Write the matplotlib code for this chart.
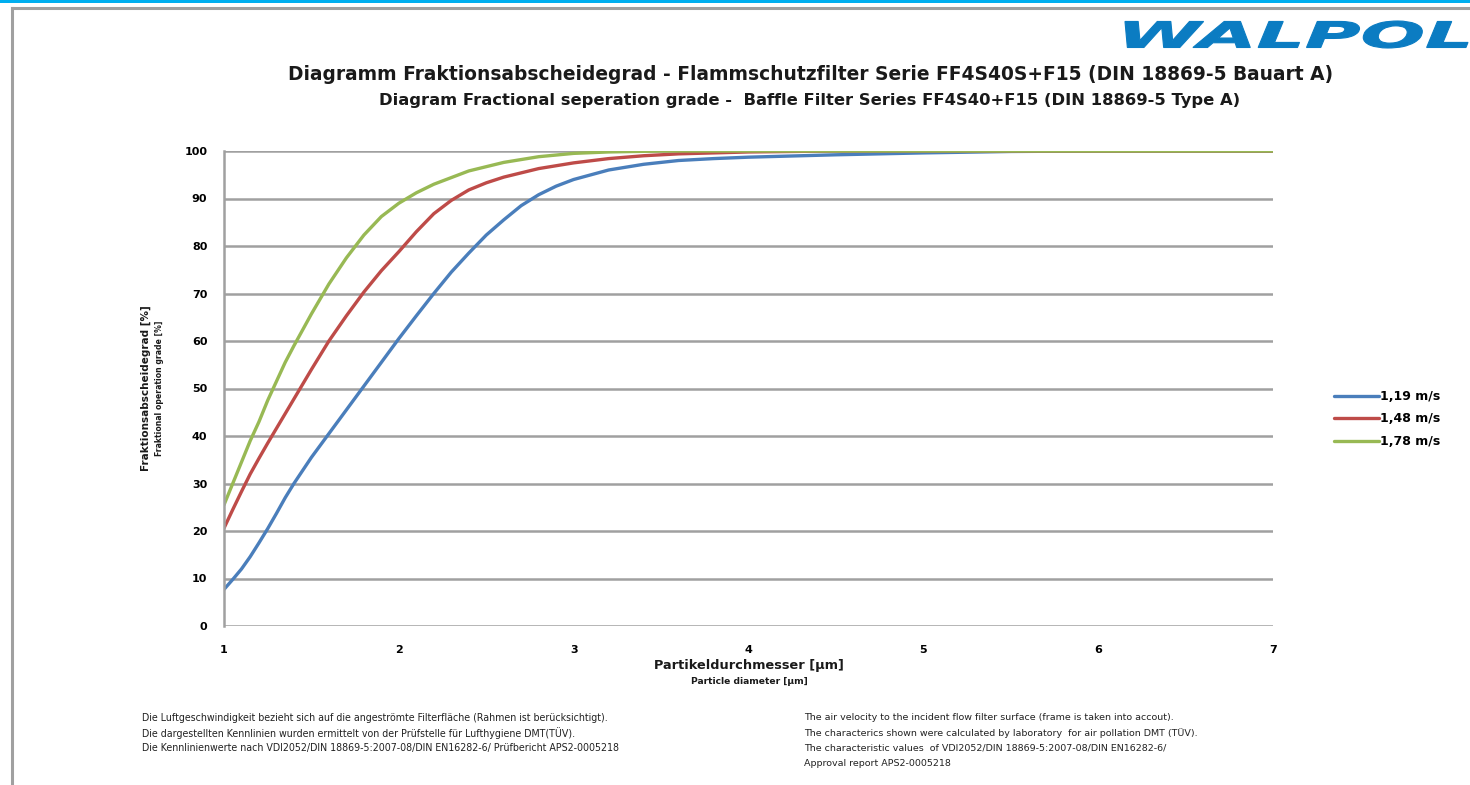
import matplotlib
matplotlib.use("Agg")
import matplotlib.pyplot as plt
from matplotlib.lines import Line2D
from matplotlib.patches import Rectangle, PathPatch
from matplotlib.textpath import TextPath
from matplotlib.font_manager import FontProperties
from matplotlib.transforms import Affine2D

# ---- data ----
d119 = [1.0, 1.05, 1.1, 1.15, 1.2, 1.25, 1.3, 1.35, 1.4, 1.5, 1.6, 1.7, 1.8, 1.9, 2.0,
        2.1, 2.2, 2.3, 2.4, 2.5, 2.6, 2.7, 2.8, 2.9, 3.0, 3.2, 3.4, 3.6, 3.8, 4.0,
        4.5, 5.0, 5.5, 6.0, 7.0]
v119 = [7.7, 9.8, 12, 14.6, 17.5, 20.5, 23.7, 27, 30, 35.5, 40.5, 45.5, 50.5, 55.5, 60.5,
        65.3, 70, 74.5, 78.5, 82.3, 85.5, 88.5, 90.8, 92.6, 94, 96, 97.2, 98, 98.4, 98.7,
        99.2, 99.6, 99.9, 100, 100]
d148 = [1.0, 1.05, 1.1, 1.15, 1.2, 1.25, 1.3, 1.4, 1.5, 1.6, 1.7, 1.8, 1.9, 2.0,
        2.1, 2.2, 2.3, 2.4, 2.5, 2.6, 2.8, 3.0, 3.2, 3.4, 3.6, 4.0, 4.5, 7.0]
v148 = [20.6, 24.5, 28.3, 32, 35.3, 38.5, 41.6, 47.8, 54, 60, 65.3, 70.3, 74.8, 78.8,
        83, 86.8, 89.6, 91.8, 93.3, 94.5, 96.3, 97.5, 98.4, 99, 99.4, 99.8, 100, 100]
d178 = [1.0, 1.05, 1.1, 1.15, 1.2, 1.25, 1.3, 1.35, 1.4, 1.5, 1.6, 1.7, 1.8, 1.9, 2.0,
        2.1, 2.2, 2.4, 2.6, 2.8, 3.0, 3.2, 3.5, 7.0]
v178 = [25.5, 30, 34.5, 39, 43, 47.5, 51.5, 55.5, 59, 65.7, 72, 77.5, 82.3, 86.2, 89,
        91.2, 93, 95.8, 97.6, 98.8, 99.5, 99.8, 100, 100]
series_labels = ["1,19 m/s", "1,48 m/s", "1,78 m/s"]
series_colors = ["#4a7ebb", "#be4b48", "#98b954"]
x_ticks = [1, 2, 3, 4, 5, 6, 7]
y_ticks = [0, 10, 20, 30, 40, 50, 60, 70, 80, 90, 100]

W, H = 1470, 785
fig = plt.figure(figsize=(W / 100, H / 100), dpi=100)
fig.patch.set_facecolor("white")

def fx(px):
    return px / W

def fy(py):
    return 1 - py / H

# decoration: blue top bar and gray frame
fig.add_artist(Rectangle((0, fy(3)), 1, 3 / H, transform=fig.transFigure,
                         color="#00aeef", lw=0))
fig.add_artist(Line2D([fx(12), 1], [fy(8), fy(8)], transform=fig.transFigure,
                      color="#a0a0a0", lw=2.2))
fig.add_artist(Line2D([fx(12), fx(12)], [fy(8), 0], transform=fig.transFigure,
                      color="#a0a0a0", lw=2.2))

# logo (stretched wide text)
tp = TextPath((0, 0), "WALPOL", size=40,
              prop=FontProperties(family="DejaVu Sans", weight="heavy", style="italic"))
ext = tp.get_extents()
sx = (1468 - 1125) / ext.width / W
sy = (48 - 21) / ext.height / H
logo_tr = Affine2D().translate(-ext.x0, -ext.y0).scale(sx, sy).translate(fx(1125), fy(48))
fig.add_artist(PathPatch(logo_tr.transform_path(tp), transform=fig.transFigure,
                         facecolor="#0b7cc2", edgecolor="#0b7cc2", lw=0.8))

fig.text(fx(811), fy(74),
         "Diagramm Fraktionsabscheidegrad - Flammschutzfilter Serie FF4S40S+F15 (DIN 18869-5 Bauart A)",
         ha="center", va="center", fontsize=13.4, fontweight="bold", color="#1a1a1a")
fig.text(fx(810), fy(100),
         "Diagram Fractional seperation grade -  Baffle Filter Series FF4S40+F15 (DIN 18869-5 Type A)",
         ha="center", va="center", fontsize=11.8, fontweight="bold", color="#1a1a1a")

ax = fig.add_axes([fx(224), fy(626), fx(1273) - fx(224), fy(151) - fy(626)])
for dx, vals, lab, col in zip([d119, d148, d178], [v119, v148, v178],
                              series_labels, series_colors):
    ax.plot(dx, vals, color=col, lw=2.4, label=lab, solid_capstyle="round",
            solid_joinstyle="round")

ax.set_xlim(1, 7)
ax.set_ylim(0, 100)
ax.set_xticks(x_ticks)
ax.set_yticks(y_ticks)
ax.set_xticklabels([str(t) for t in x_ticks], fontsize=8, fontweight="bold")
ax.set_yticklabels([str(t) for t in y_ticks], fontsize=8, fontweight="bold")
ax.tick_params(length=0, pad=12)
ax.tick_params(axis="x", pad=14)
ax.grid(axis="y", color="#a0a0a0", lw=1.8)
ax.set_axisbelow(True)
for s in ["top", "right", "bottom"]:
    ax.spines[s].set_visible(False)
ax.spines["left"].set_color("#a0a0a0")
ax.spines["left"].set_linewidth(1.8)

# axis titles
fig.text(fx(146), fy(388), "Fraktionsabscheidegrad [%]", rotation=90, ha="center",
         va="center", fontsize=7.5, fontweight="bold", color="#1a1a1a")
fig.text(fx(159), fy(388), "Fraktional operation grade [%]", rotation=90, ha="center",
         va="center", fontsize=5.6, fontweight="bold", color="#1a1a1a")
fig.text(fx(749), fy(665), "Partikeldurchmesser [µm]", ha="center", va="center",
         fontsize=9.3, fontweight="bold", color="#1a1a1a")
fig.text(fx(749), fy(682), "Particle diameter [µm]", ha="center", va="center",
         fontsize=6.6, fontweight="bold", color="#1a1a1a")

# legend
ax.legend(loc="center left", bbox_to_anchor=(fx(1323), fy(419)),
          bbox_transform=fig.transFigure, frameon=False,
          prop={"weight": "bold", "size": 9}, handlelength=3.6,
          handletextpad=0.1, labelspacing=0.75)

# footnotes
left_notes = [
    "Die Luftgeschwindigkeit bezieht sich auf die angeströmte Filterfläche (Rahmen ist berücksichtigt).",
    "Die dargestellten Kennlinien wurden ermittelt von der Prüfstelle für Lufthygiene DMT(TÜV).",
    "Die Kennlinienwerte nach VDI2052/DIN 18869-5:2007-08/DIN EN16282-6/ Prüfbericht APS2-0005218",
]
right_notes = [
    "The air velocity to the incident flow filter surface (frame is taken into accout).",
    "The characterics shown were calculated by laboratory  for air pollation DMT (TÜV).",
    "The characteristic values  of VDI2052/DIN 18869-5:2007-08/DIN EN16282-6/",
    "Approval report APS2-0005218",
]
for i, t in enumerate(left_notes):
    fig.text(fx(142), fy(718 + 15 * i), t, ha="left", va="center", fontsize=6.85,
             color="#222222")
for i, t in enumerate(right_notes):
    fig.text(fx(804), fy(718 + 15 * i), t, ha="left", va="center", fontsize=6.8,
             color="#222222")

fig.savefig("out.png", dpi=100, facecolor="white")
